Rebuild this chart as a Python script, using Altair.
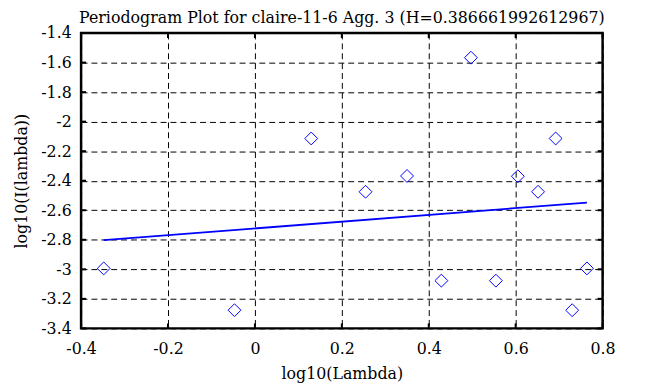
import altair as alt
import pandas as pd

# Data
log_lambda = [-0.348, -0.047, 0.1295, 0.2545, 0.350, 0.429, 0.497, 0.5545, 0.605, 0.6515, 0.692, 0.730, 0.764]
log_I = [-2.994, -3.277, -2.114, -2.475, -2.368, -3.077, -1.567, -3.077, -2.370, -2.475, -2.114, -3.277, -2.994]

fit_x = [-0.348, 0.764]
fit_y = [-2.803, -2.548]

x_ticks = [-0.4, -0.2, 0, 0.2, 0.4, 0.6, 0.8]
y_ticks = [-3.4, -3.2, -3.0, -2.8, -2.6, -2.4, -2.2, -2.0, -1.8, -1.6, -1.4]

W, H = 528, 299
FONT = "DejaVu Serif"

pts = pd.DataFrame({"x": log_lambda, "y": log_I})
fit = pd.DataFrame({"x": fit_x, "y": fit_y})
xt = pd.DataFrame({"x": x_ticks})
yt = pd.DataFrame({"y": y_ticks})

xscale = alt.Scale(domain=[-0.4, 0.8], nice=False, zero=False)
yscale = alt.Scale(domain=[-3.4, -1.4], nice=False, zero=False)

LBL = "replace(format(datum.value, '.1~f'), '\u2212', '-')"

xaxis = alt.Axis(values=x_ticks, title="log10(Lambda)", grid=True, ticks=False,
                 domain=False, labelPadding=12, titlePadding=10, labelOverlap=False,
                 labelFlush=False, labelExpr=LBL, tickCount=7,
                 labelFont=FONT, titleFont=FONT)
yaxis = alt.Axis(values=y_ticks, title="log10(I(lambda))", grid=True, ticks=False,
                 domain=False, labelPadding=10, titlePadding=11, labelOverlap=False,
                 labelFlush=False, labelExpr=LBL, tickCount=11,
                 labelFont=FONT, titleFont=FONT)

points = alt.Chart(pts).mark_point(shape="diamond", filled=False, color="#0000ff",
                                   size=170, strokeWidth=1, opacity=1).encode(
    x=alt.X("x:Q", scale=xscale, axis=xaxis),
    y=alt.Y("y:Q", scale=yscale, axis=yaxis),
)

line = alt.Chart(fit).mark_line(color="#0000ff", strokeWidth=1.8).encode(
    x=alt.X("x:Q", scale=xscale, axis=xaxis),
    y=alt.Y("y:Q", scale=yscale, axis=yaxis),
)

tick_len = 5
bottom_ticks = alt.Chart(xt).mark_rule(color="black", strokeWidth=2).encode(
    x=alt.X("x:Q", scale=xscale, axis=xaxis), y=alt.value(H), y2=alt.value(H - tick_len))
top_ticks = alt.Chart(xt).mark_rule(color="black", strokeWidth=2).encode(
    x=alt.X("x:Q", scale=xscale, axis=xaxis), y=alt.value(0), y2=alt.value(tick_len))
left_ticks = alt.Chart(yt).mark_rule(color="black", strokeWidth=2).encode(
    y=alt.Y("y:Q", scale=yscale, axis=yaxis), x=alt.value(0), x2=alt.value(tick_len))
right_ticks = alt.Chart(yt).mark_rule(color="black", strokeWidth=2).encode(
    y=alt.Y("y:Q", scale=yscale, axis=yaxis), x=alt.value(W), x2=alt.value(W - tick_len))

chart = alt.layer(points, line, bottom_ticks, top_ticks, left_ticks, right_ticks).properties(
    width=W, height=H,
    title=alt.TitleParams("Periodogram Plot for claire-11-6 Agg. 3 (H=0.386661992612967)",
                          font=FONT, fontSize=16, fontWeight="normal", color="black",
                          anchor="middle", offset=-1),
    autosize=alt.AutoSizeParams(type="none"),
    padding={"left": 74, "top": 23, "right": 48, "bottom": 56},
    background="white",
).configure_view(
    stroke="black", strokeWidth=2.5
).configure_axis(
    gridColor="black", gridDash=[6, 4], gridWidth=1, gridOpacity=1,
    labelFont=FONT, labelFontSize=16, labelColor="black",
    titleFont=FONT, titleFontSize=16, titleFontWeight="normal", titleColor="black",
)

chart.save("out.html", embed_options={"renderer": "svg", "actions": False})
